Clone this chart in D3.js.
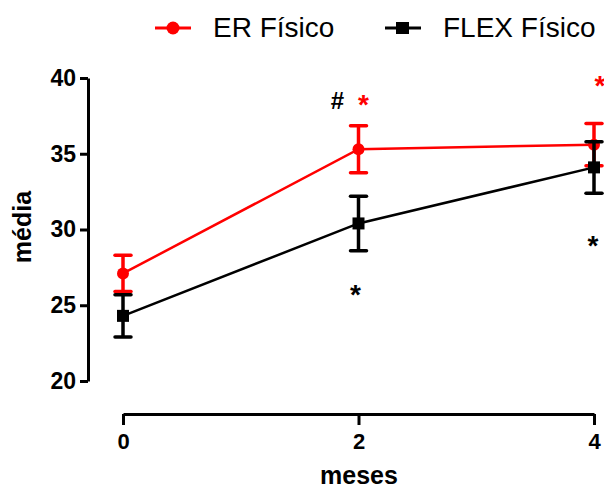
<!DOCTYPE html>
<html>
<head>
<meta charset="utf-8">
<script src="https://cdn.jsdelivr.net/npm/d3@7"></script>
<style>
  html, body { margin: 0; padding: 0; background: #fff; }
  svg { display: block; }
</style>
</head>
<body>
<svg id="chart" width="604" height="488"></svg>
<script>
// Time points (months)
const meses = [0, 2, 4];
const xTicks = [0, 2, 4];
const yTicks = [20, 25, 30, 35, 40];

// ER Físico: mean and SEM
const erMedia = [27.1, 35.3, 35.6];
const erErro = [1.2, 1.55, 1.4];

// FLEX Físico: mean and SEM
const flexMedia = [24.3, 30.4, 34.1];
const flexErro = [1.4, 1.8, 1.7];

const series = [
  { nome: "ER Físico", cor: "#ff0000", media: erMedia, erro: erErro, simbolo: "circle" },
  { nome: "FLEX Físico", cor: "#000000", media: flexMedia, erro: flexErro, simbolo: "square" }
];

const svg = d3.select("#chart");
const x = d3.scaleLinear().domain([0, 4]).range([123, 594]);
const y = d3.scaleLinear().domain([20, 40]).range([381, 78]);

const boldFont = "'Liberation Sans', Arial, sans-serif";

// Y axis
const yAxis = svg.append("g")
  .attr("transform", "translate(88,0)")
  .call(d3.axisLeft(y).tickValues(yTicks).tickFormat(d3.format("d")).tickSize(8).tickSizeOuter(0).tickPadding(4));
yAxis.select(".domain").attr("stroke", "#000").attr("stroke-width", 3);
yAxis.selectAll(".tick line").attr("stroke", "#000").attr("stroke-width", 3);
yAxis.selectAll(".tick text")
  .attr("font-family", boldFont).attr("font-weight", "bold").attr("font-size", 23).attr("fill", "#000");

// X axis
const xAxis = svg.append("g")
  .attr("transform", "translate(0,414)")
  .call(d3.axisBottom(x).tickValues(xTicks).tickFormat(d3.format("d")).tickSize(11).tickSizeOuter(0).tickPadding(8));
xAxis.select(".domain").attr("stroke", "#000").attr("stroke-width", 3);
xAxis.selectAll(".tick line").attr("stroke", "#000").attr("stroke-width", 3);
xAxis.selectAll(".tick text")
  .attr("font-family", boldFont).attr("font-weight", "bold").attr("font-size", 22).attr("fill", "#000");

// Axis titles
svg.append("text")
  .attr("x", 359).attr("y", 484)
  .attr("text-anchor", "middle")
  .attr("font-family", boldFont).attr("font-weight", "bold").attr("font-size", 25)
  .text("meses");

svg.append("text")
  .attr("transform", "translate(31,227) rotate(-90)")
  .attr("text-anchor", "middle")
  .attr("font-family", boldFont).attr("font-weight", "bold").attr("font-size", 25)
  .text("média");

// Series: line, error bars, markers
const line = d3.line().x((d, i) => x(meses[i])).y(d => y(d));

series.forEach(s => {
  const g = svg.append("g");
  g.append("path")
    .datum(s.media)
    .attr("d", line)
    .attr("fill", "none")
    .attr("stroke", s.cor)
    .attr("stroke-width", 2.5);

  const pts = s.media.map((m, i) => ({ x: meses[i], m: m, e: s.erro[i] }));
  const eb = g.selectAll(".eb").data(pts).enter().append("g");
  eb.append("line")
    .attr("x1", d => x(d.x)).attr("x2", d => x(d.x))
    .attr("y1", d => y(d.m + d.e)).attr("y2", d => y(d.m - d.e))
    .attr("stroke", s.cor).attr("stroke-width", 3.5);
  [1, -1].forEach(sign => {
    eb.append("line")
      .attr("x1", d => x(d.x) - 8).attr("x2", d => x(d.x) + 8)
      .attr("y1", d => y(d.m + sign * d.e)).attr("y2", d => y(d.m + sign * d.e))
      .attr("stroke", s.cor).attr("stroke-width", 3.5).attr("stroke-linecap", "round");
  });

  if (s.simbolo === "circle") {
    g.selectAll(".pt").data(pts).enter().append("circle")
      .attr("cx", d => x(d.x)).attr("cy", d => y(d.m)).attr("r", 6)
      .attr("fill", s.cor);
  } else {
    g.selectAll(".pt").data(pts).enter().append("rect")
      .attr("x", d => x(d.x) - 6).attr("y", d => y(d.m) - 6)
      .attr("width", 12).attr("height", 12)
      .attr("fill", s.cor);
  }
});

// Significance marks
const marcas = [
  { t: "#", cor: "#000", xv: 2, dx: -21, yv: 40, dy: 22, size: 24 },
  { t: "*", cor: "#ff0000", xv: 2, dx: 5, yv: 40, dy: 26, size: 28 },
  { t: "*", cor: "#000", xv: 2, dx: -3, yv: 25, dy: -11, size: 28 },
  { t: "*", cor: "#ff0000", xv: 4, dx: 6, yv: 40, dy: 7, size: 28 },
  { t: "*", cor: "#000", xv: 4, dx: -1, yv: 30, dy: 16, size: 28 }
];
svg.selectAll(".marca").data(marcas).enter().append("text")
  .attr("x", d => x(d.xv) + d.dx)
  .attr("y", d => y(d.yv) + d.dy)
  .attr("text-anchor", "middle")
  .attr("dominant-baseline", "central")
  .attr("font-family", boldFont).attr("font-weight", "bold")
  .attr("font-size", d => d.size)
  .attr("fill", d => d.cor)
  .text(d => d.t);

// Legend
const legenda = [
  { nome: "ER Físico", cor: "#ff0000", simbolo: "circle", x0: 155 },
  { nome: "FLEX Físico", cor: "#000000", simbolo: "square", x0: 385 }
];
legenda.forEach(l => {
  const g = svg.append("g").attr("transform", `translate(${l.x0},28)`);
  g.append("line").attr("x1", 0).attr("x2", 36).attr("y1", 0).attr("y2", 0)
    .attr("stroke", l.cor).attr("stroke-width", 3);
  if (l.simbolo === "circle") {
    g.append("circle").attr("cx", 18).attr("cy", 0).attr("r", 6.5).attr("fill", l.cor);
  } else {
    g.append("rect").attr("x", 11).attr("y", -6).attr("width", 13).attr("height", 12).attr("fill", l.cor);
  }
  g.append("text").attr("x", 58).attr("y", 9)
    .attr("font-family", "'Liberation Sans', Arial, sans-serif")
    .attr("font-size", 28).attr("fill", "#000")
    .text(l.nome);
});
</script>
</body>
</html>
